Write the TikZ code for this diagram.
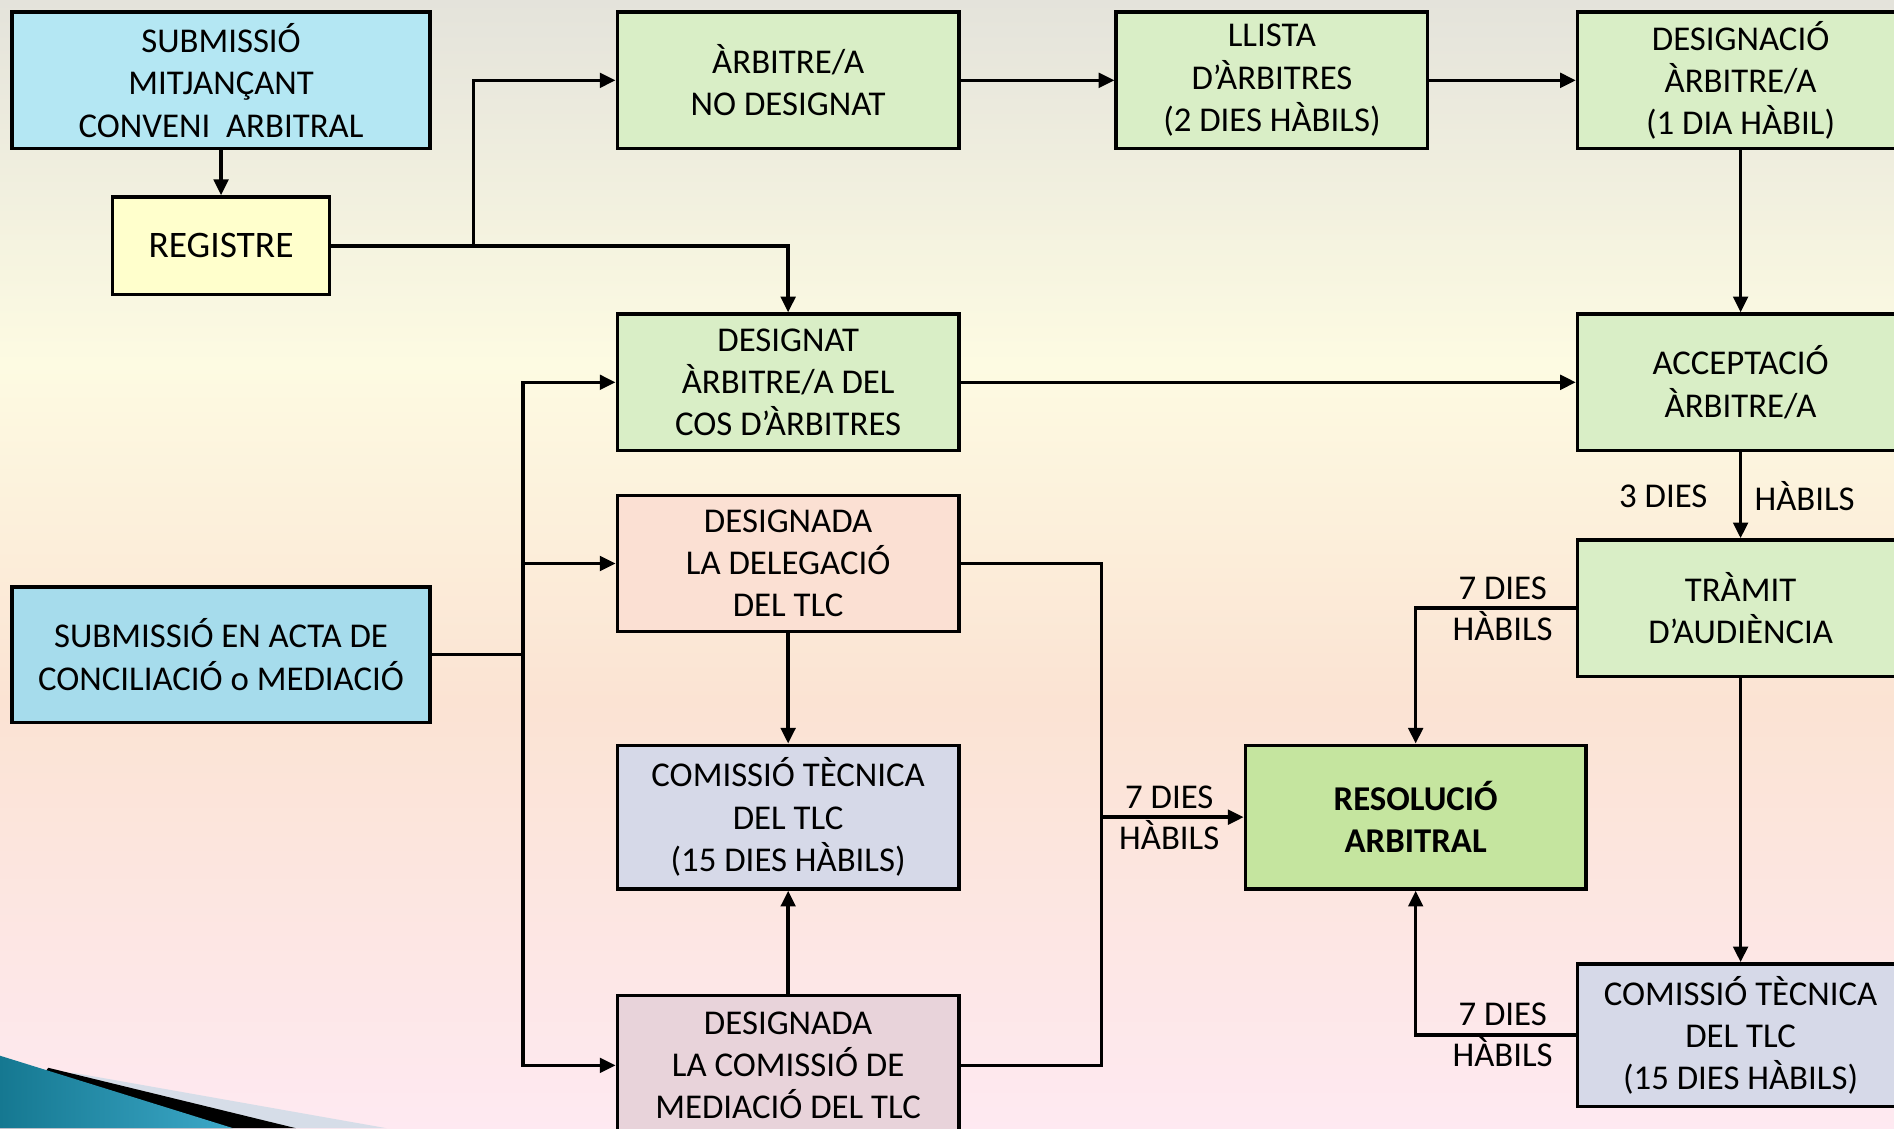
\documentclass[tikz,border=0pt]{standalone}
\usepackage{fontspec}
\setmainfont{Carlito}
\usetikzlibrary{arrows.meta}
\definecolor{bgA}{HTML}{E4E3DB}
\definecolor{bgB}{HTML}{FDFBE2}
\definecolor{bgC}{HTML}{FBE3D3}
\definecolor{bgD}{HTML}{FEE9F1}
\definecolor{cyanA}{HTML}{B4E7F3}
\definecolor{cyanB}{HTML}{A6DCEC}
\definecolor{yel}{HTML}{FFFFCC}
\definecolor{grn}{HTML}{D9EEC6}
\definecolor{grnB}{HTML}{C5E59F}
\definecolor{pch}{HTML}{FBE0D3}
\definecolor{lav}{HTML}{D6D9E8}
\definecolor{pnk}{HTML}{E8D3DA}
\definecolor{tealA}{HTML}{157891}
\definecolor{tealB}{HTML}{3CA8C8}
\definecolor{stripe}{HTML}{D6DDE8}
\begin{document}
\begin{tikzpicture}[x=1pt,y=-1pt,
  box/.style={draw=black, line width=2.8pt, align=center, inner sep=0pt, font=\fontsize{28.8}{35}\selectfont},
  conn/.style={line width=2.8pt},
  arr/.style={line width=2.8pt, -{Triangle[length=13pt,width=12pt]}},
  lbl/.style={font=\fontsize{28.8}{34}\selectfont, align=center, inner sep=0pt}]
\useasboundingbox (0,0) rectangle (1568,934);
\clip (0,0) rectangle (1568,934);
% background
\shade[top color=bgA, bottom color=bgB] (0,0) rectangle (1568,301);
\shade[top color=bgB, bottom color=bgC] (0,300) rectangle (1568,581);
\shade[top color=bgC, bottom color=bgD] (0,580) rectangle (1568,934);
% corner decoration
\fill[stripe] (60,888) -- (320,934) -- (0,934) -- cycle;
\fill[black] (40,884) -- (245,934) -- (0,934) -- cycle;
\shade[left color=tealA, right color=tealB] (0,874) -- (193,934) -- (0,934) -- cycle;
% nodes
\node[box, fill=cyanA, minimum width=346, minimum height=113] (sub1) at (183,66.5) {SUBMISSIÓ\\MITJANÇANT\\CONVENI\ \ ARBITRAL};
\node[box, fill=yel, minimum width=180, minimum height=81, font=\fontsize{31}{35}\selectfont] (reg) at (183,203.5) {REGISTRE};
\node[box, fill=grn, minimum width=283, minimum height=113] (nodes) at (652.5,66.5) {ÀRBITRE/A\\NO DESIGNAT};
\node[box, fill=grn, minimum width=258, minimum height=113] (llista) at (1053,66.5) {LLISTA\\D’ÀRBITRES\\(2 DIES HÀBILS)};
\node[box, fill=grn, minimum width=270, minimum height=113] (desig) at (1441,66.5) {DESIGNACIÓ\\ÀRBITRE/A\\(1 DIA HÀBIL)};
\node[box, fill=grn, minimum width=283, minimum height=113] (cos) at (652.5,316.5) {DESIGNAT\\ÀRBITRE/A DEL\\COS D’ÀRBITRES};
\node[box, fill=grn, minimum width=270, minimum height=113] (accept) at (1441,316.5) {ACCEPTACIÓ\\ÀRBITRE/A};
\node[box, fill=grn, minimum width=270, minimum height=113] (tramit) at (1441,503.5) {TRÀMIT\\D’AUDIÈNCIA};
\node[box, fill=pch, minimum width=283, minimum height=113] (deleg) at (652.5,466.5) {DESIGNADA\\LA DELEGACIÓ\\DEL TLC};
\node[box, fill=cyanB, minimum width=346, minimum height=112] (acta) at (183,542) {SUBMISSIÓ EN ACTA DE\\CONCILIACIÓ o MEDIACIÓ};
\node[box, fill=lav, minimum width=283, minimum height=119] (com1) at (652.5,676.5) {COMISSIÓ TÈCNICA\\DEL TLC\\(15 DIES HÀBILS)};
\node[box, fill=pnk, minimum width=283, minimum height=116] (med) at (652.5,882) {DESIGNADA\\LA COMISSIÓ DE\\MEDIACIÓ DEL TLC};
\node[box, fill=grnB, minimum width=282, minimum height=119, font=\fontsize{28.8}{35}\selectfont\bfseries] (resol) at (1172,676.5) {RESOLUCIÓ\\ARBITRAL};
\node[box, fill=lav, minimum width=270, minimum height=118] (com2) at (1441,857) {COMISSIÓ TÈCNICA\\DEL TLC\\(15 DIES HÀBILS)};
% junction coordinates
\coordinate (j1) at (392,203.5);
\coordinate (j2) at (433,542);
\coordinate (j3) at (912,676.5);
% connectors
\draw[arr] (sub1) -- (reg);
\draw[conn] (reg.east) -- (j1);
\draw[arr] (j1) |- (nodes.west);
\draw[arr] (j1) -| (cos.north);
\draw[arr] (nodes) -- (llista);
\draw[arr] (llista) -- (desig);
\draw[arr] (desig) -- (accept);
\draw[arr] (cos) -- (accept);
\draw[arr] (accept) -- (tramit);
\draw[arr] (tramit.west) -| (resol.north);
\draw[arr] (tramit) -- (com2);
\draw[arr] (com2.west) -| (resol.south);
\draw[conn] (acta.east) -- (j2);
\draw[arr] (j2) |- (cos.west);
\draw[arr] (j2) |- (deleg.west);
\draw[arr] (j2) |- (med.west);
\draw[arr] (deleg) -- (com1);
\draw[arr] (med) -- (com1);
\draw[conn] (deleg.east) -| (j3);
\draw[conn] (med.east) -| (j3);
\draw[arr] (j3) -- (resol.west);
% labels
\node[lbl] (l3a) at (1377,411) {3 DIES};
\node[lbl] (l3b) at (1494,411) {HÀBILS};
\node[lbl] (l7a) at (1244,504) {7 DIES\\HÀBILS};
\node[lbl] (l7b) at (1244,857) {7 DIES\\HÀBILS};
\node[lbl] (l7c) at (968,677) {7 DIES\\HÀBILS};
\end{tikzpicture}
\end{document}
